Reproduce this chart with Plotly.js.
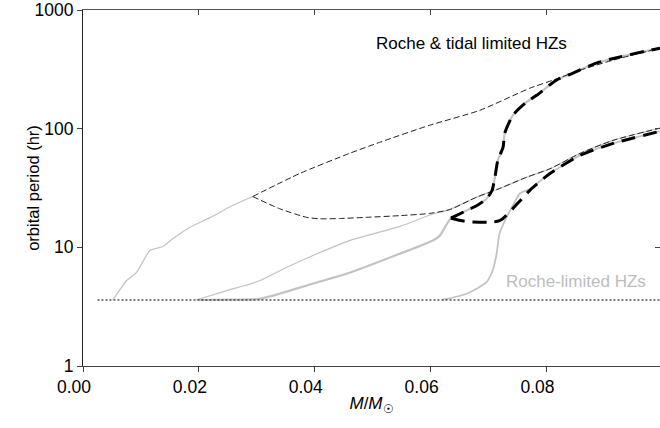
<!DOCTYPE html>
<html>
<head>
<meta charset="utf-8">
<script src="https://cdn.plot.ly/plotly-3.0.1.min.js"></script>
<style>html,body{margin:0;padding:0;background:#fff;}#chart{width:660px;height:428px;}</style>
</head>
<body>
<div id="chart"></div>
<script>
// Tick labels
const xTickVals = [0, 0.02, 0.04, 0.06, 0.08];
const xTickText = ['0.00', '0.02', '0.04', '0.06', '0.08'];
const yTickVals = [1, 10, 100, 1000];
const yTickText = ['1', '10', '100', '1000'];

// Minimum period (dotted line)
const minX = [0.0025, 0.0996];
const minY = [3.6, 3.6];

// Roche-limited HZ edges (gray)
const g1X = [0.0051, 0.0054, 0.0075, 0.0092, 0.0115, 0.0124, 0.0137, 0.0155, 0.0184, 0.0219, 0.0258, 0.0293];
const g1Y = [3.6, 3.76, 5.23, 6.11, 9.37, 9.75, 10.1, 11.8, 14.7, 17.8, 22.5, 26.8];

const g2X = [0.0195, 0.0247, 0.0305, 0.0351, 0.0396, 0.0460, 0.0547, 0.0604, 0.0633, 0.0679, 0.0719, 0.0766, 0.0806, 0.0858, 0.0915, 0.0996];
const g2Y = [3.6, 4.3, 5.23, 6.77, 8.5, 11.4, 15.0, 19.1, 20.8, 26.4, 31.3, 39.0, 45.9, 61.9, 79.7, 101];

const g3X = [0.020, 0.026, 0.0305, 0.0339, 0.0396, 0.0460, 0.0547, 0.0604, 0.0616, 0.0635, 0.0663, 0.0680, 0.0697, 0.0706, 0.0711, 0.0716, 0.0725, 0.0728, 0.0742, 0.0766, 0.0783, 0.0817, 0.0845, 0.0886, 0.0927, 0.0996];
const g3Y = [3.6, 3.62, 3.68, 4.06, 4.93, 6.1, 8.84, 11.4, 12.55, 17.6, 20.5, 22.5, 25.8, 30.1, 38.8, 54.0, 69.5, 91.3, 129.6, 168, 191, 256, 293, 357, 403, 477];

const g4X = [0.0620, 0.0662, 0.0696, 0.0707, 0.0714, 0.0719, 0.0731, 0.0742, 0.0754, 0.0771, 0.0806, 0.0858, 0.0915, 0.0996];
const g4Y = [3.6, 4.06, 5.06, 6.35, 8.84, 13.05, 17.9, 22.5, 28.4, 31.0, 41.9, 59.5, 75.2, 95];

// Roche & tidal limited HZ edges (dashed)
const upX = [0.0293, 0.0374, 0.0460, 0.0512, 0.0598, 0.0685, 0.0771, 0.0811, 0.0858, 0.0915, 0.0996];
const upY = [26.8, 41.9, 61.9, 76.7, 106.7, 142.8, 219, 256, 311, 378, 477];

const loX = [0.0293, 0.0339, 0.0386, 0.0409, 0.0443, 0.0489, 0.0547, 0.0598, 0.0633, 0.0679, 0.0719, 0.0766, 0.0806, 0.0858, 0.0915, 0.0996];
const loY = [26.8, 21.2, 17.9, 17.4, 17.5, 17.9, 18.5, 19.3, 20.8, 26.4, 31.3, 39.0, 45.9, 61.9, 79.7, 101];

const aX = [0.0635, 0.0663, 0.0680, 0.0697, 0.0706, 0.0711, 0.0716, 0.0725, 0.0728, 0.0742, 0.0766, 0.0783, 0.0817, 0.0845, 0.0886, 0.0927, 0.0996];
const aY = [17.6, 20.5, 22.5, 25.8, 30.1, 38.8, 54.0, 69.5, 91.3, 129.6, 168, 191, 256, 293, 357, 403, 477];

const bX = [0.0635, 0.0662, 0.0707, 0.0719, 0.0725, 0.0742, 0.0771, 0.0806, 0.0858, 0.0915, 0.0996];
const bY = [17.6, 16.5, 16.3, 16.8, 17.5, 21.2, 30.1, 41.9, 59.5, 75.2, 95];

const GRAY = '#c3c3c3';
function line(x, y, color, width, dash) {
  return {x: x, y: y, type: 'scatter', mode: 'lines', hoverinfo: 'skip',
    line: {color: color, width: width, dash: dash || 'solid', shape: 'spline', smoothing: 0.6}};
}

const traces = [
  line(g1X, g1Y, GRAY, 1.2),
  line(g2X, g2Y, GRAY, 1.2),
  line(g3X, g3Y, GRAY, 2.2),
  line(g4X, g4Y, GRAY, 1.8),
  line(upX, upY, '#222', 1, '6px,3px'),
  line(loX, loY, '#222', 1, '6px,3px'),
  line(aX, aY, '#000', 3, '14px,8px'),
  line(bX, bY, '#000', 3, '14px,8px'),
  {x: minX, y: minY, type: 'scatter', mode: 'lines', hoverinfo: 'skip', line: {color: '#000', width: 1, dash: '2px,2px'}},
  {x: [0], y: [1], type: 'scatter', mode: 'lines', xaxis: 'x2', yaxis: 'y', hoverinfo: 'skip', line: {width: 0}},
  {x: [0], y: [1], type: 'scatter', mode: 'lines', xaxis: 'x', yaxis: 'y2', hoverinfo: 'skip', line: {width: 0}}
];

const FONT = 'Liberation Sans, Arial, Helvetica, sans-serif';
const layout = {
  width: 660, height: 428,
  margin: {l: 83, r: 0, t: 10, b: 62},
  paper_bgcolor: '#fff', plot_bgcolor: '#fff',
  showlegend: false,
  font: {family: FONT, color: '#000', size: 17},
  xaxis: {
    range: [0, 0.0996], tickvals: xTickVals, ticktext: xTickText,
    ticks: 'outside', ticklen: 5, tickcolor: '#444', showline: true, linecolor: '#444', linewidth: 1,
    showgrid: false, zeroline: false, tickfont: {size: 17.5}, ticklabelshift: -9,
    title: {text: '<i>M</i>/<i>M</i><sub>☉</sub>', font: {size: 17}, standoff: 1}
  },
  xaxis2: {
    overlaying: 'x', side: 'top', range: [0, 0.0996], tickvals: xTickVals,
    ticks: 'inside', ticklen: 5, tickcolor: '#444', showline: true, linecolor: '#555', linewidth: 1,
    showgrid: false, zeroline: false, showticklabels: false
  },
  yaxis: {
    type: 'log', range: [0, 3], tickvals: yTickVals, ticktext: yTickText,
    ticks: 'outside', ticklen: 5, tickcolor: '#444', showline: true, linecolor: '#222', linewidth: 1,
    showgrid: false, zeroline: false, tickfont: {size: 17.5},
    title: {text: 'orbital period (hr)', font: {size: 16.5}}
  },
  yaxis2: {
    overlaying: 'y', side: 'right', type: 'log', range: [0, 3], tickvals: [10, 100],
    ticks: 'inside', ticklen: 5, tickcolor: '#444', showline: false,
    showgrid: false, zeroline: false, showticklabels: false
  },
  annotations: [
    {text: 'Roche &amp; tidal limited HZs', xref: 'paper', yref: 'paper', x: 0.674, y: 0.907,
     showarrow: false, font: {size: 17, color: '#000'}, xanchor: 'center', yanchor: 'middle'},
    {text: 'Roche-limited HZs', xref: 'paper', yref: 'paper', x: 0.854, y: 0.238,
     showarrow: false, font: {size: 17, color: '#bdbdbd'}, xanchor: 'center', yanchor: 'middle'}
  ]
};

Plotly.newPlot('chart', traces, layout, {staticPlot: true, displayModeBar: false});
</script>
</body>
</html>
